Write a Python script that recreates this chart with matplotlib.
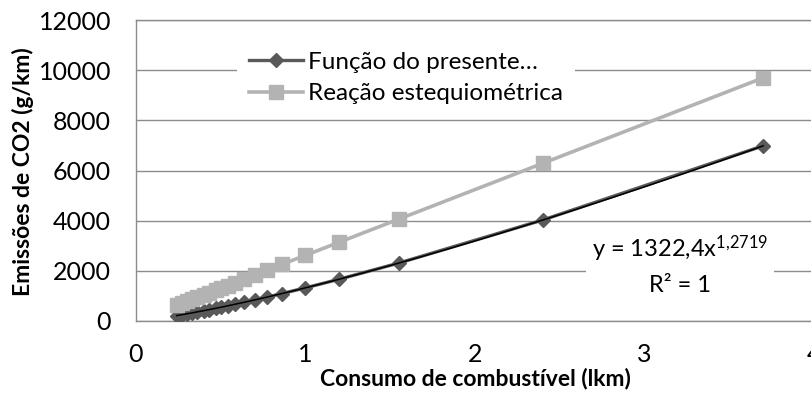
import matplotlib
matplotlib.use("Agg")
import matplotlib.pyplot as plt
import numpy as np

plt.rcParams['font.family'] = ['Lato', 'DejaVu Sans']
plt.rcParams['mathtext.default'] = 'regular'

# consumo (l/km) e emissões de CO2 (g/km)
consumo = [0.24, 0.27, 0.30, 0.33, 0.36, 0.40, 0.43, 0.47, 0.50, 0.54,
           0.585, 0.64, 0.70, 0.77, 0.86, 1.00, 1.20, 1.55, 2.40, 3.70]
emissoes_funcao = [215, 250, 286, 323, 361, 412, 452, 506, 548, 604,
                   669, 750, 840, 948, 1092, 1322, 1668, 2309, 4027, 6983]
emissoes_reacao = [629, 707, 786, 865, 943, 1048, 1127, 1231, 1310, 1415,
                   1533, 1677, 1834, 2017, 2253, 2620, 3144, 4061, 6288, 9694]

# linha de tendência potência
coef_a = 1322.4
coef_b = 1.2719

nomes = ['Função do presente…', 'Reação estequiométrica']
x_ticks = [0, 1, 2, 3, 4]
y_ticks = [0, 2000, 4000, 6000, 8000, 10000, 12000]

W, H = 812, 399
fig = plt.figure(figsize=(W / 100, H / 100), dpi=100)
ax = fig.add_axes([136 / W, (H - 321) / H, 678 / W, 301 / H])

cinza_escuro = '#595959'
cinza_claro = '#b3b3b3'
grade = '#8c8c8c'

ax.plot(consumo, emissoes_funcao, color=cinza_escuro, lw=2.4, marker='D',
        ms=7, mec=cinza_escuro, mfc=cinza_escuro, label=nomes[0], zorder=3)
ax.plot(consumo, emissoes_reacao, color=cinza_claro, lw=2.6, marker='s',
        ms=9.5, mec=cinza_claro, mfc=cinza_claro, label=nomes[1], zorder=4)

xt = np.linspace(min(consumo), max(consumo), 200)
ax.plot(xt, coef_a * xt ** coef_b, color='black', lw=1.1, zorder=5)

ax.set_xlim(0, 4)
ax.set_ylim(0, 12000)
ax.set_xticks(x_ticks)
ax.set_yticks(y_ticks)
ax.grid(axis='y', color=grade, lw=1)
ax.set_axisbelow(True)
for s in ax.spines.values():
    s.set_color(grade)
    s.set_linewidth(1)
ax.tick_params(axis='both', length=0, labelsize=18, colors='black')
ax.tick_params(axis='y', pad=18)
ax.tick_params(axis='x', pad=16)

ax.set_xlabel('Consumo de combustível (lkm)', fontsize=16.5, fontweight='bold')
ax.xaxis.set_label_coords(0.5, -0.155)
ax.set_ylabel('Emissões de CO2 (g/km)', fontsize=16.5, fontweight='bold')
ax.yaxis.set_label_coords(-0.15, 0.495)

leg = ax.legend(loc='center', bbox_to_anchor=(406 / W, 1 - 78 / H),
                bbox_transform=fig.transFigure, fontsize=17.5,
                frameon=True, fancybox=False, framealpha=1, facecolor='white',
                edgecolor='none', handlelength=2.2, handletextpad=0.2,
                labelspacing=0.45, borderpad=0.5)
leg.set_zorder(6)

ax.text(3.21, 2227, 'y = 1322,4x$^{1{,}2719}$\nR² = 1', ha='center', va='center',
        multialignment='center', fontsize=17, linespacing=1.65, zorder=6,
        bbox=dict(facecolor='white', edgecolor='none', pad=4.5))

fig.savefig('out.png', dpi=100)
